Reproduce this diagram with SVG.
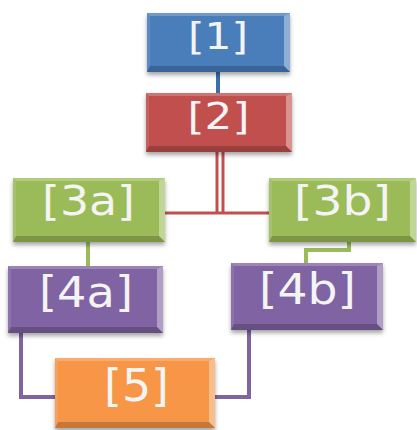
<svg xmlns="http://www.w3.org/2000/svg" width="417" height="430" viewBox="0 0 417 430">
  <defs>
    <filter id="shadow" x="-10%" y="-10%" width="120%" height="130%">
      <feDropShadow dx="0" dy="3" stdDeviation="2" flood-color="#000" flood-opacity="0.35"/>
    </filter>
  </defs>
  <style>
    .lbl { font-family: "DejaVu Sans", "Verdana", sans-serif; fill: #f4f4f4; text-anchor: middle; }
    .bt { fill: #fff; fill-opacity: 0.22; }
    .bl { fill: #fff; fill-opacity: 0.1; }
    .br { fill: #fff; fill-opacity: 0.38; }
    .bb { fill: #000; fill-opacity: 0.2; }
    .c { fill: none; stroke-width: 4; }
  </style>

  <rect width="417" height="430" fill="#fff"/>

  <!-- connectors -->
  <g id="connectors">
    <line class="c" x1="218" y1="70" x2="218" y2="95" stroke="#3b6fa8"/>
    <line x1="217" y1="150" x2="217" y2="213" stroke="#c0504d" stroke-width="3"/>
    <line x1="223" y1="150" x2="223" y2="213" stroke="#c0504d" stroke-width="3"/>
    <line x1="163" y1="213" x2="271" y2="213" stroke="#c0504d" stroke-width="3"/>
    <line class="c" x1="88" y1="240" x2="88" y2="268" stroke="#9bbb59"/>
    <polyline class="c" points="349,240 349,250 306,250 306,265" stroke="#9bbb59"/>
    <polyline class="c" points="21,331 21,397 57,397" stroke="#8064a2"/>
    <polyline class="c" points="249,328 249,397 213,397" stroke="#8064a2"/>
  </g>

  <!-- [1] -->
  <g id="n1" transform="translate(147,13)">
    <g filter="url(#shadow)"><rect width="143" height="59" fill="#4a7ebb"/></g>
    <polygon class="bt" points="0,0 143,0 137,3 3,3"/>
    <polygon class="bl" points="0,0 3,3 3,53 0,59"/>
    <polygon class="br" points="143,0 143,59 137,53 137,3"/>
    <polygon class="bb" points="0,59 143,59 137,53 3,53"/>
    <text class="lbl" x="71" y="36" font-size="38" textLength="60" lengthAdjust="spacingAndGlyphs">[1]</text>
  </g>

  <!-- [2] -->
  <g id="n2" transform="translate(146,93)">
    <g filter="url(#shadow)"><rect width="146" height="59" fill="#c0504d"/></g>
    <polygon class="bt" points="0,0 146,0 140,3 3,3"/>
    <polygon class="bl" points="0,0 3,3 3,53 0,59"/>
    <polygon class="br" points="146,0 146,59 140,53 140,3"/>
    <polygon class="bb" points="0,59 146,59 140,53 3,53"/>
    <text class="lbl" x="72.5" y="36" font-size="38" textLength="62" lengthAdjust="spacingAndGlyphs">[2]</text>
  </g>

  <!-- [3a] -->
  <g id="n3a" transform="translate(13,178)">
    <g filter="url(#shadow)"><rect width="152" height="64" fill="#9bbb59"/></g>
    <polygon class="bt" points="0,0 152,0 146,3 3,3"/>
    <polygon class="bl" points="0,0 3,3 3,58 0,64"/>
    <polygon class="br" points="152,0 152,64 146,58 146,3"/>
    <polygon class="bb" points="0,64 152,64 146,58 3,58"/>
    <text class="lbl" x="75.5" y="37" font-size="40" textLength="93" lengthAdjust="spacingAndGlyphs">[3a]</text>
  </g>

  <!-- [3b] -->
  <g id="n3b" transform="translate(269,178)">
    <g filter="url(#shadow)"><rect width="147" height="64" fill="#9bbb59"/></g>
    <polygon class="bt" points="0,0 147,0 141,3 3,3"/>
    <polygon class="bl" points="0,0 3,3 3,58 0,64"/>
    <polygon class="br" points="147,0 147,64 141,58 141,3"/>
    <polygon class="bb" points="0,64 147,64 141,58 3,58"/>
    <text class="lbl" x="73.5" y="37" font-size="40" textLength="97" lengthAdjust="spacingAndGlyphs">[3b]</text>
  </g>

  <!-- [4a] -->
  <g id="n4a" transform="translate(8,266)">
    <g filter="url(#shadow)"><rect width="155" height="67" fill="#8064a2"/></g>
    <polygon class="bt" points="0,0 155,0 149,3 3,3"/>
    <polygon class="bl" points="0,0 3,3 3,61 0,67"/>
    <polygon class="br" points="155,0 155,67 149,61 149,3"/>
    <polygon class="bb" points="0,67 155,67 149,61 3,61"/>
    <text class="lbl" x="78" y="41" font-size="43" textLength="94" lengthAdjust="spacingAndGlyphs">[4a]</text>
  </g>

  <!-- [4b] -->
  <g id="n4b" transform="translate(231,263)">
    <g filter="url(#shadow)"><rect width="152" height="67" fill="#8064a2"/></g>
    <polygon class="bt" points="0,0 152,0 146,3 3,3"/>
    <polygon class="bl" points="0,0 3,3 3,61 0,67"/>
    <polygon class="br" points="152,0 152,67 146,61 146,3"/>
    <polygon class="bb" points="0,67 152,67 146,61 3,61"/>
    <text class="lbl" x="76.5" y="41" font-size="43" textLength="97" lengthAdjust="spacingAndGlyphs">[4b]</text>
  </g>

  <!-- [5] -->
  <g id="n5" transform="translate(55,358)">
    <g filter="url(#shadow)"><rect width="160" height="70" fill="#f79646"/></g>
    <polygon class="bt" points="0,0 160,0 154,3 3,3"/>
    <polygon class="bl" points="0,0 3,3 3,64 0,70"/>
    <polygon class="br" points="160,0 160,70 154,64 154,3"/>
    <polygon class="bb" points="0,70 160,70 154,64 3,64"/>
    <text class="lbl" x="81.5" y="43" font-size="44" textLength="65" lengthAdjust="spacingAndGlyphs">[5]</text>
  </g>
</svg>
